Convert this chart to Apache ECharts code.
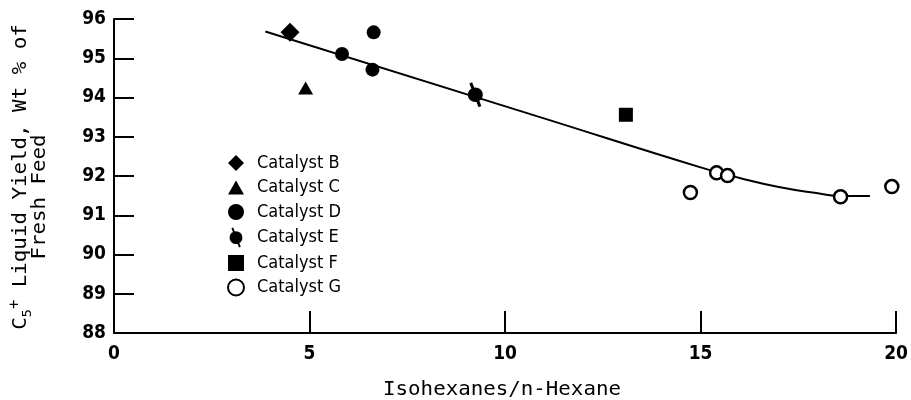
<!DOCTYPE html>
<html>
<head>
<meta charset="utf-8">
<script src="https://cdn.jsdelivr.net/npm/echarts@6/dist/echarts.min.js"></script>
<style>html,body{margin:0;padding:0;background:#fff;}#c{width:911px;height:400px;}</style>
</head>
<body>
<div id="c"></div>
<script>
// ---- data ----
const xTicks = [0, 5, 10, 15, 20];
const yTicks = [88, 89, 90, 91, 92, 93, 94, 95, 96];
const catalystNames = ['Catalyst B', 'Catalyst C', 'Catalyst D', 'Catalyst E', 'Catalyst F', 'Catalyst G'];
const catB = [[4.50, 95.66]];
const catC = [[4.90, 94.24]];
const catD = [[5.83, 95.11], [6.64, 95.66], [6.61, 94.71]];
const catE = [[9.24, 94.07]];
const catF = [[13.09, 93.56]];
const catG = [[14.74, 91.58], [15.41, 92.08], [15.69, 92.01], [18.58, 91.47], [19.89, 91.73]];
const fitCurve = [[3.87, 95.68], [10.83, 93.52], [15.0, 92.22], [16.0, 91.95], [17.0, 91.72], [18.0, 91.56], [18.6, 91.49], [19.33, 91.49]];
const xTitle = 'Isohexanes/n-Hexane';
const yTitle1 = ['C', '5', '+', ' Liquid Yield, Wt % of'];
const yTitle2 = 'Fresh Feed';

const COND = '"DejaVu Sans Condensed", "Liberation Sans Narrow", sans-serif';
const MONO = '"DejaVu Sans Mono", "Liberation Mono", monospace';
const slashCircle = 'path://M5,12 A7,7 0 1,0 19,12 A7,7 0 1,0 5,12 Z M6.4,1.2 L15.0,23.9 L17.6,22.8 L9.0,0.1 Z';
const legendIcons = [
  'path://M8,0 L16,8 L8,16 L0,8 Z',
  'path://M7.5,0 L15,13 L0,13 Z',
  'circle',
  'path://M5.5,12 A6.5,6.5 0 1,0 18.5,12 A6.5,6.5 0 1,0 5.5,12 Z M7.4,2.6 L15.0,21.9 L16.8,21.1 L9.2,1.8 Z',
  'path://M0,0 L12,0 L12,12 L0,12 Z',
  'circle'
];

const chart = echarts.init(document.getElementById('c'), null, {renderer: 'canvas'});
const mk = (name, data, symbol, size, style) => ({
  name, type: 'scatter', data, symbol, symbolSize: size, z: 3,
  itemStyle: Object.assign({color: '#000', opacity: 1}, style || {})
});
const legendData = catalystNames.map((n, i) => ({name: n, icon: legendIcons[i]}));
chart.setOption({
  animation: false,
  backgroundColor: '#fff',
  grid: {left: 114, right: 12, top: 19, bottom: 67, containLabel: false},
  xAxis: {
    type: 'value', min: xTicks[0], max: xTicks[xTicks.length - 1], interval: xTicks[1] - xTicks[0],
    axisLine: {show: true, onZero: false, lineStyle: {color: '#000', width: 2}},
    axisTick: {show: true, inside: true, length: 22, lineStyle: {color: '#000', width: 2}},
    axisLabel: {margin: 12, color: '#000', fontFamily: COND, fontSize: 19, fontWeight: 'bold'},
    splitLine: {show: false}
  },
  yAxis: {
    type: 'value', min: yTicks[0], max: yTicks[yTicks.length - 1], interval: yTicks[1] - yTicks[0],
    axisLine: {show: true, onZero: false, lineStyle: {color: '#000', width: 2}},
    axisTick: {show: true, inside: true, length: 20, lineStyle: {color: '#000', width: 2}},
    axisLabel: {margin: 8, color: '#000', fontFamily: COND, fontSize: 19, fontWeight: 'bold'},
    splitLine: {show: false}
  },
  legend: {
    orient: 'vertical', left: 227, top: 154, padding: 0,
    itemWidth: 16, itemHeight: 20, itemGap: 6.5,
    data: legendData,
    textStyle: {color: '#000', fontFamily: COND, fontSize: 18, lineHeight: 18, padding: [0, 0, 0, 8]}
  },
  series: [
    {name: 'fit', type: 'line', data: fitCurve, smooth: 0.5, showSymbol: false, symbol: 'none',
     lineStyle: {color: '#000', width: 2}, z: 2, silent: true},
    mk(catalystNames[0], catB, 'diamond', 19),
    mk(catalystNames[1], catC, 'triangle', [15, 13]),
    mk(catalystNames[2], catD, 'circle', 14),
    mk(catalystNames[3], catE, slashCircle, [15, 25]),
    mk(catalystNames[4], catF, 'rect', 14),
    mk(catalystNames[5], catG, 'circle', 13, {color: '#fff', borderColor: '#000', borderWidth: 2.5})
  ],
  graphic: [
    {type: 'text', x: 21, y: 177, rotation: Math.PI / 2, scaleX: 1.04,
     style: {
       text: '{m|' + yTitle1[0] + '}{sub|' + yTitle1[1] + '}{sup|' + yTitle1[2] + '}{m|' + yTitle1[3] + '}',
       align: 'center', verticalAlign: 'middle', textAlign: 'center', textVerticalAlign: 'middle',
       fill: '#000',
       rich: {
         m: {fontFamily: MONO, fontSize: 20, lineHeight: 26, verticalAlign: 'middle', fill: '#000', color: '#000'},
         sub: {fontFamily: MONO, fontSize: 13, lineHeight: 12, verticalAlign: 'bottom', fill: '#000', color: '#000'},
         sup: {fontFamily: MONO, fontSize: 15, lineHeight: 14, verticalAlign: 'top', fill: '#000', color: '#000'}
       }
     }},
    {type: 'text', x: 40, y: 197, rotation: Math.PI / 2, scaleX: 1.04,
     style: {text: yTitle2, font: '20px ' + MONO, fill: '#000',
       align: 'center', verticalAlign: 'middle', textAlign: 'center', textVerticalAlign: 'middle'}},
    {type: 'text', x: 502, y: 390, scaleX: 1.04,
     style: {text: xTitle, font: '20px ' + MONO, fill: '#000',
       align: 'center', verticalAlign: 'middle', textAlign: 'center', textVerticalAlign: 'middle'}}
  ]
});
</script>
</body>
</html>
